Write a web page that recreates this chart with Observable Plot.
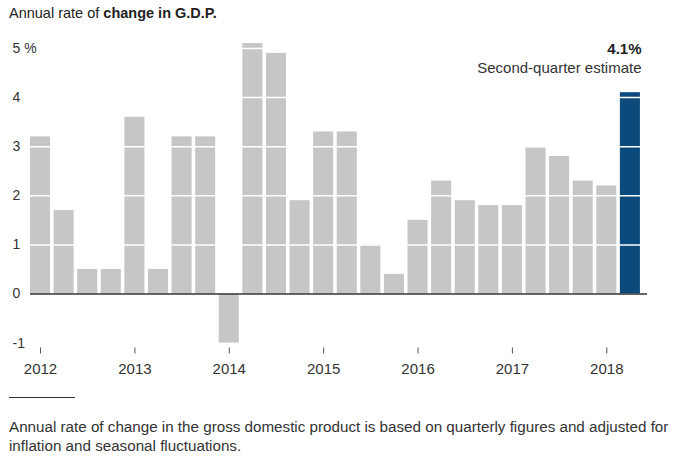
<!DOCTYPE html>
<html><head><meta charset="utf-8">
<script src="https://cdn.jsdelivr.net/npm/d3@7"></script>
<script src="https://cdn.jsdelivr.net/npm/@observablehq/plot@0.6"></script>
<style>
body{margin:0;background:#fff;font-family:"Liberation Sans",Arial,sans-serif;color:#333;width:673px;}
#title{margin-left:9px;height:26px;line-height:26px;font-size:14.5px;color:#222;}
#chart svg{display:block;}
#rule{margin-left:9px;margin-top:11px;width:66px;border-top:1px solid #333;}
#note{margin-left:9px;margin-top:19px;width:660px;font-size:15.2px;line-height:19px;color:#333;}
</style></head><body>
<div id="title">Annual rate of <b>change in G.D.P.</b></div>
<div id="chart"></div>
<div id="rule"></div>
<div id="note">Annual rate of change in the gross domestic product is based on quarterly figures and adjusted for inflation and seasonal fluctuations.</div>
<script>
const quarters = ["2012 Q1","2012 Q2","2012 Q3","2012 Q4","2013 Q1","2013 Q2","2013 Q3","2013 Q4","2014 Q1","2014 Q2","2014 Q3","2014 Q4","2015 Q1","2015 Q2","2015 Q3","2015 Q4","2016 Q1","2016 Q2","2016 Q3","2016 Q4","2017 Q1","2017 Q2","2017 Q3","2017 Q4","2018 Q1","2018 Q2"];
const growth = [3.2,1.7,0.5,0.5, 3.6,0.5,3.2,3.2, -1.0,5.1,4.9,1.9, 3.3,3.3,1.0,0.4, 1.5,2.3,1.9,1.8, 1.8,3.0,2.8,2.3, 2.2,4.1];
const yearTicks = ["2012 Q1","2013 Q1","2014 Q1","2015 Q1","2016 Q1","2017 Q1","2018 Q1"];
const yTicks = [-1,0,1,2,3,4,5];
const gridValues = [1,2,3,4,5];
const estimateQuarter = "2018 Q2";
const estimateLabel = "4.1%";
const estimateNote = "Second-quarter estimate";

const data = quarters.map((q,i)=>({quarter:q, value:growth[i]}));
const gray = "#c6c6c4", blue = "#0d4a7c";

const chart = Plot.plot({
  width: 673, height: 360,
  marginTop: 22, marginBottom: 38.5, marginLeft: 30, marginRight: 26,
  style: {fontFamily: '"Liberation Sans", Arial, sans-serif', color: "#333", background: "#fff"},
  x: {domain: quarters, paddingInner: 0.15, paddingOuter: 0.15, align: 0, round: false, label: null},
  y: {domain: [-1.1, 5], label: null},
  marks: [
    Plot.barY(data, {x: "quarter", y: "value", fill: d => d.quarter === estimateQuarter ? blue : gray}),
    Plot.ruleY(gridValues, {stroke: "#fff", strokeWidth: 1.5}),
    Plot.ruleY([0], {stroke: "#333", strokeWidth: 1.5}),
    Plot.axisY({ticks: yTicks, tickSize: 0, tickPadding: 18, textAnchor: "start", fontSize: 14, fill: "#333", label: null,
      tickFormat: d => d === 5 ? "5 %" : String(d)}),
    Plot.axisX({ticks: yearTicks, tickFormat: q => q.slice(0,4), tickSize: 6, tickPadding: 9, fontSize: 15, stroke: "#555", fill: "#333", label: null}),
    Plot.text([estimateLabel], {frameAnchor: "top-right", text: d => d, textAnchor: "end", dx: -6, dy: -5, fontWeight: "bold", fontSize: 15, fill: "#222"}),
    Plot.text([estimateNote], {frameAnchor: "top-right", text: d => d, textAnchor: "end", dx: -6, dy: 14, fontSize: 15, fill: "#333"})
  ]
});
document.getElementById("chart").append(chart);
</script>
</body></html>
